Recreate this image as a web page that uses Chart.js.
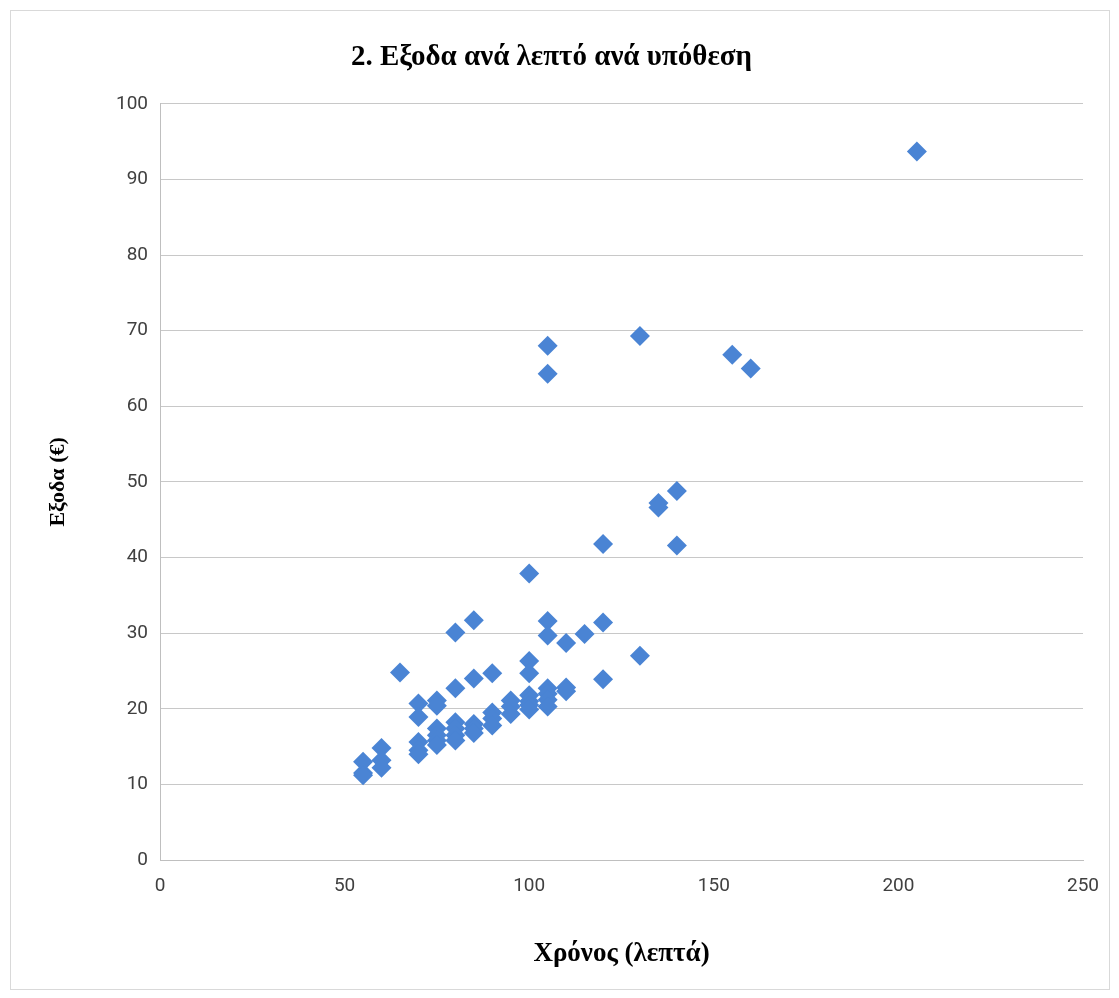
<!DOCTYPE html>
<html>
<head>
<meta charset="utf-8">
<script src="https://cdn.jsdelivr.net/npm/chart.js@4/dist/chart.umd.min.js"></script>
<style>
  html, body { margin: 0; padding: 0; background: #fff; }
  #wrap { width: 1119px; height: 998px; }
</style>
</head>
<body>
<div id="wrap"><canvas id="chart" width="1119" height="998"></canvas></div>
<script>
// χρόνος ανά υπόθεση (λεπτά)
const minutes = [
  55, 55, 55, 60, 60, 60, 65,
  70, 70, 70, 70, 70, 75, 75, 75, 75, 75, 75,
  80, 80, 80, 80, 80, 80, 85, 85, 85, 85, 85,
  90, 90, 90, 90, 95, 95, 95,
  100, 100, 100, 100, 100, 100, 100,
  105, 105, 105, 105, 105, 105, 105, 105,
  110, 110, 110, 115, 120, 120, 120,
  130, 130, 135, 135, 140, 140, 155, 160, 205
];
// έξοδα ανά υπόθεση (€)
const costs = [
  13.0, 11.5, 11.2, 14.8, 13.2, 12.2, 24.8,
  20.7, 18.9, 15.6, 14.5, 14.0, 21.1, 20.4, 17.4, 16.5, 15.8, 15.2,
  30.1, 22.7, 18.2, 17.4, 16.5, 15.8, 31.7, 24.0, 18.0, 17.4, 16.8,
  24.7, 19.5, 18.7, 17.8, 21.1, 20.3, 19.3,
  37.9, 26.3, 24.7, 21.8, 21.0, 20.5, 19.9,
  68.0, 64.3, 31.6, 29.7, 22.7, 22.0, 21.2, 20.3,
  28.7, 22.8, 22.3, 29.9, 41.8, 31.4, 23.9,
  69.3, 27.0, 47.2, 46.6, 48.8, 41.6, 66.8, 65.0, 93.7
];
const xTicks = [0, 50, 100, 150, 200, 250];
const yTicks = [0, 10, 20, 30, 40, 50, 60, 70, 80, 90, 100];

const points = minutes.map((m, i) => ({ x: m, y: costs[i] }));

const serif = "'Liberation Serif', 'DejaVu Serif', serif";
const sans = "Roboto, 'Open Sans', sans-serif";

// light frame around the whole chart
const frame = {
  id: 'frame',
  beforeDraw(chart) {
    const ctx = chart.ctx;
    ctx.save();
    ctx.fillStyle = '#fff';
    ctx.fillRect(0, 0, chart.width, chart.height);
    ctx.strokeStyle = '#d9d9d9';
    ctx.lineWidth = 1;
    ctx.strokeRect(10.5, 10.5, 1099, 979);
    ctx.restore();
  }
};

new Chart(document.getElementById('chart'), {
  type: 'scatter',
  data: {
    datasets: [{
      data: points,
      pointStyle: 'rectRot',
      pointRadius: 10,
      pointHoverRadius: 10,
      pointBorderWidth: 0,
      backgroundColor: '#4a84d4',
      borderColor: '#4a84d4'
    }]
  },
  options: {
    responsive: false,
    animation: false,
    layout: { padding: { left: 20, right: 36, top: 0, bottom: 0 } },
    plugins: {
      legend: { display: false },
      tooltip: { enabled: false },
      title: {
        display: true,
        text: '2. Εξοδα ανά λεπτό ανά υπόθεση',
        color: '#000',
        font: { family: serif, size: 29, weight: 'bold' },
        padding: { top: 40, bottom: 29 }
      }
    },
    scales: {
      x: {
        type: 'linear',
        min: 0,
        max: 250,
        afterBuildTicks(scale) { scale.ticks = xTicks.map(v => ({ value: v })); },
        afterFit(scale) { scale.height = 138; },
        grid: { display: false, drawTicks: false },
        border: { display: true, color: '#bfbfbf' },
        ticks: {
          color: '#404040',
          padding: 15,
          font: { family: sans, size: 19 }
        },
        title: {
          display: true,
          text: 'Χρόνος (λεπτά)',
          color: '#000',
          font: { family: serif, size: 27, weight: 'bold' },
          padding: { top: 0, bottom: 28 }
        }
      },
      y: {
        type: 'linear',
        min: 0,
        max: 100,
        afterBuildTicks(scale) { scale.ticks = yTicks.map(v => ({ value: v })); },
        afterFit(scale) { scale.width = 140; },
        grid: { color: '#c8c8c8', lineWidth: 1, drawTicks: false },
        border: { display: true, color: '#bfbfbf' },
        ticks: {
          color: '#404040',
          padding: 12,
          font: { family: sans, size: 19 }
        },
        title: {
          display: true,
          text: 'Εξοδα (€)',
          color: '#000',
          font: { family: serif, size: 22, weight: 'bold' },
          padding: { top: 25, bottom: 0 }
        }
      }
    }
  },
  plugins: [frame]
});
</script>
</body>
</html>
